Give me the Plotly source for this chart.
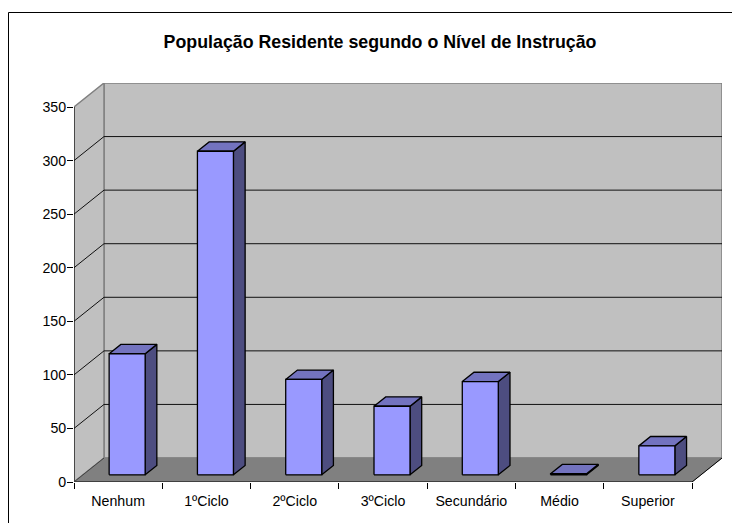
import plotly.graph_objects as go

categories = ["Nenhum", "1ºCiclo", "2ºCiclo", "3ºCiclo", "Secundário", "Médio", "Superior"]
values = [113, 302, 89, 64, 87, 1, 27]
y_ticks = [0, 50, 100, 150, 200, 250, 300, 350]
title = "População Residente segundo o Nível de Instrução"

OFF = 8  # the page's own body margin
W, H = 740 - OFF, 523 - OFF
PX_L, PX_R, PX_T, PX_B = 74.0 - OFF, 722.0 - OFF, 83.0 - OFF, 482.0 - OFF
CAT_PX = (692.0 - 74.0) / len(categories)
VAL_PX = (482.0 - 107.0) / 350.0
DX = 30.0 / CAT_PX   # depth skew, category units
DY = 24.0 / VAL_PX   # depth skew, value units
BAR_W = 36.0 / CAT_PX
D_FRONT, D_BACK = 0.3, 0.69
YMAX = y_ticks[-1]
N = len(categories)


def proj(x, v, d=0.0):
    return x + d * DX, v + d * DY


def poly(points, fill=None, line="#000000", width=1.0):
    xs, ys = zip(*points)
    kw = dict(fill="toself", fillcolor=fill) if fill else {}
    return go.Scatter(x=list(xs), y=list(ys), mode="lines",
                      line=dict(color=line, width=width),
                      hoverinfo="skip", showlegend=False, **kw)


fig = go.Figure()
GRAY = "#808080"
# back wall
fig.add_trace(poly([proj(0, 0, 1), proj(N, 0, 1), proj(N, YMAX, 1), proj(0, YMAX, 1), proj(0, 0, 1)],
                   "#C0C0C0", GRAY, 1.5))
# side wall
fig.add_trace(poly([proj(0, 0), proj(0, 0, 1), proj(0, YMAX, 1), proj(0, YMAX), proj(0, 0)],
                   "#C0C0C0", GRAY, 1.5))
# floor
fig.add_trace(poly([proj(0, 0), proj(N, 0), proj(N, 0, 1), proj(0, 0, 1), proj(0, 0)],
                   GRAY, GRAY, 1.0))
# gridlines on both walls
for t in y_ticks[1:-1]:
    fig.add_trace(poly([proj(0, t), proj(0, t, 1), proj(N, t, 1)], None, "#101010", 1.0))
# front edges
fig.add_trace(poly([proj(0, YMAX), proj(0, 0), proj(N, 0)], None, "#000000", 1.0))
fig.add_trace(poly([proj(0, 0), proj(0, 0, 1)], None, "#404040", 1.0))
fig.add_trace(poly([proj(N, 0), proj(N, 0, 1)], None, "#000000", 1.0))

# columns
for i, v in enumerate(values):
    a = i + 0.5 - BAR_W / 2
    b = i + 0.5 + BAR_W / 2
    fig.add_trace(poly([proj(b, 0, D_FRONT), proj(b, 0, D_BACK), proj(b, v, D_BACK),
                        proj(b, v, D_FRONT), proj(b, 0, D_FRONT)], "#4D4D80", width=1.3))
    fig.add_trace(poly([proj(a, v, D_FRONT), proj(b, v, D_FRONT), proj(b, v, D_BACK),
                        proj(a, v, D_BACK), proj(a, v, D_FRONT)], "#7373BF", width=1.3))
    fig.add_trace(poly([proj(a, 0, D_FRONT), proj(b, 0, D_FRONT), proj(b, v, D_FRONT),
                        proj(a, v, D_FRONT), proj(a, 0, D_FRONT)], "#9999FF", width=1.3))

font = "Liberation Sans, Arial, sans-serif"
fig.update_layout(
    width=W, height=H, autosize=False,
    margin=dict(l=0, r=0, t=0, b=0, pad=0),
    paper_bgcolor="#FFFFFF", plot_bgcolor="#FFFFFF",
    showlegend=False,
    font=dict(family=font, size=14, color="#000000"),
    title=dict(text="<b>" + title + "</b>", x=(380 - OFF) / W, xanchor="center",
               y=1 - (41.5 - OFF) / H, yanchor="middle",
               font=dict(family=font, size=17.8, color="#000000")),
    xaxis=dict(domain=[PX_L / W, PX_R / W], range=[0, (PX_R - PX_L) / CAT_PX], automargin=False,
               showgrid=False, zeroline=False, showline=False,
               tickmode="array", tickvals=[i + 0.5 for i in range(N)], ticktext=categories,
               ticks="outside", ticklen=0, tickwidth=0, tickfont=dict(size=14.2), ticklabelstandoff=6,
               minor=dict(tickmode="array", tickvals=list(range(N + 1)), ticks="outside",
                          ticklen=6, tickcolor="#000000", tickwidth=1, showgrid=False)),
    yaxis=dict(domain=[1 - PX_B / H, 1 - PX_T / H], range=[0, (PX_B - PX_T) / VAL_PX], automargin=False,
               showgrid=False, zeroline=False, showline=False,
               tickmode="array", tickvals=y_ticks, ticks="outside", ticklen=6, ticklabelstandoff=-2,
               tickcolor="#000000", tickwidth=1, tickfont=dict(size=14.2)),
    shapes=[
        dict(type="line", xref="paper", yref="paper", x0=0.5 / W, x1=1, y0=1 - 4.5 / H, y1=1 - 4.5 / H,
             line=dict(color="#000000", width=1)),
        dict(type="line", xref="paper", yref="paper", x0=0.5 / W, x1=0.5 / W, y0=0, y1=1 - 4.5 / H,
             line=dict(color="#000000", width=1)),
    ],
)
fig.write_html("out.html")
